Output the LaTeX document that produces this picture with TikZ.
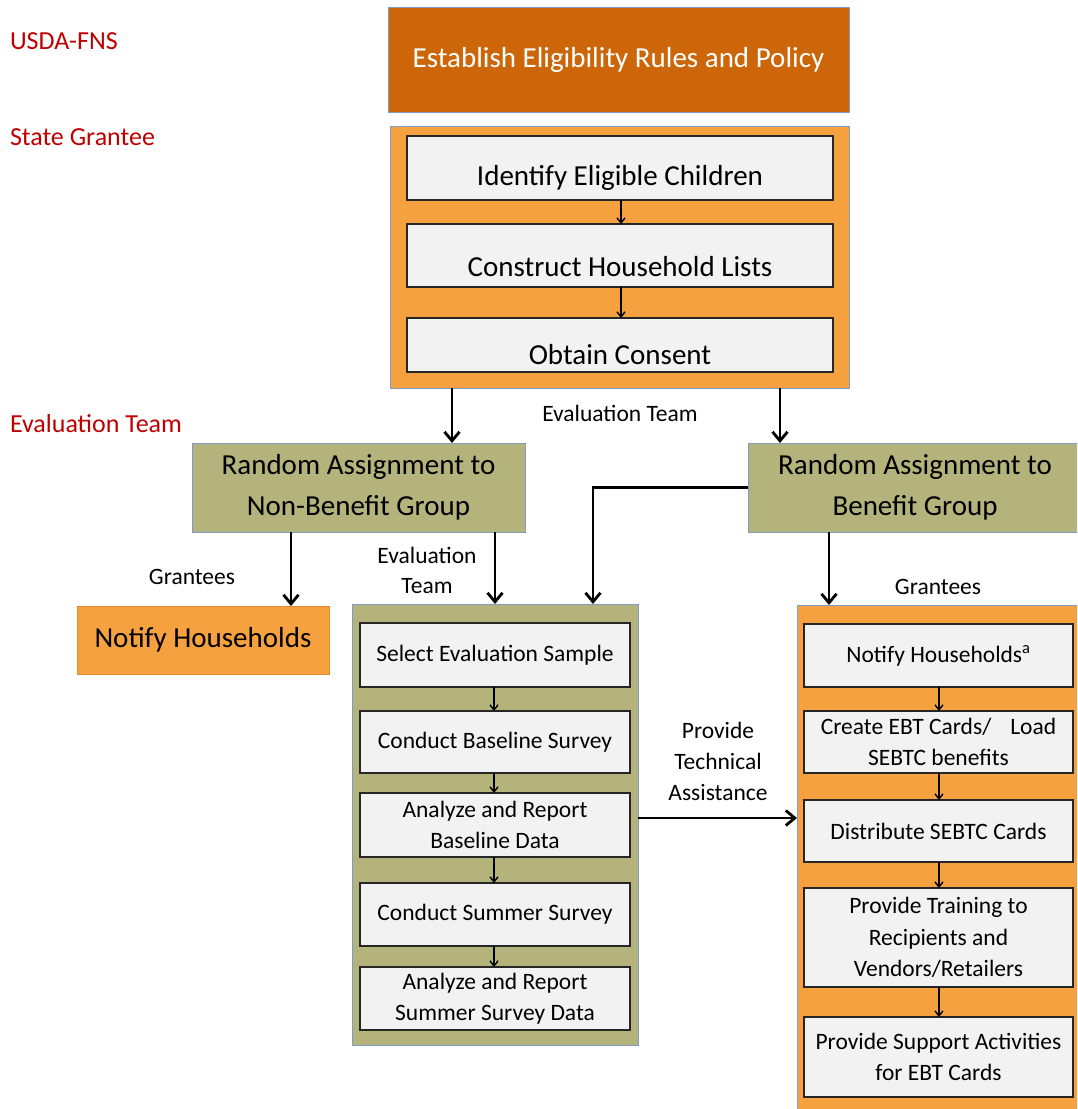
\documentclass[tikz,border=0pt]{standalone}
\usepackage{fontspec}
\setmainfont{Carlito}
\usetikzlibrary{arrows.meta}

\definecolor{rustorange}{HTML}{CC6608}
\definecolor{lightorange}{HTML}{F6A13F}
\definecolor{orangeedge}{HTML}{E48A2D}
\definecolor{olivefill}{HTML}{B3B37B}
\definecolor{boxgray}{HTML}{F2F2F2}
\definecolor{edgeblue}{HTML}{7F9CC4}
\definecolor{labelred}{HTML}{C00000}

\begin{document}
\begin{tikzpicture}[x=1pt,y=-1pt,
  every node/.style={inner sep=0pt, outer sep=0pt},
  panel/.style={draw=edgeblue, line width=1pt, rectangle},
  stepbox/.style={draw=black!85, line width=1.8pt, fill=boxgray, rectangle},
  bigfont/.style={font=\fontsize{29pt}{41pt}\selectfont, align=center},
  colfont/.style={font=\fontsize{23.5pt}{31.5pt}\selectfont, align=center},
  notefont/.style={font=\fontsize{23.5pt}{30pt}\selectfont, align=center},
  rolefont/.style={font=\fontsize{26pt}{30pt}\selectfont, text=labelred, anchor=west},
  bigarrow/.style={line width=2.8pt, -{Straight Barb[length=9pt,width=15pt]}},
  smallarrow/.style={line width=1.4pt, -{Straight Barb[length=5pt,width=8pt]}}
]
\useasboundingbox (0,0) rectangle (1077,1109);
\clip (0,0) rectangle (1077,1109);
\fill[white] (0,0) rectangle (1077,1109);

% role labels on the left
\node[rolefont] (role1) at (10,41) {USDA-FNS};
\node[rolefont] (role2) at (10,137) {State Grantee};
\node[rolefont] (role3) at (10,424) {Evaluation Team};

% policy level
\node[panel, fill=rustorange, minimum width=461pt, minimum height=105pt,
      bigfont, text=white] (policy) at (618.5,59.5) {Establish Eligibility Rules and Policy};

% state grantee panel with its three steps
\node[panel, fill=lightorange, minimum width=459pt, minimum height=262pt] (state) at (619.5,257) {};
\node[stepbox, minimum width=426pt, minimum height=64pt] (identify) at (620,168) {};
\node[bigfont] (identify-t) at (620,178) {Identify Eligible Children};
\node[stepbox, minimum width=426pt, minimum height=63pt] (lists) at (620,255.5) {};
\node[bigfont] (lists-t) at (620,267) {Construct Household Lists};
\node[stepbox, minimum width=426pt, minimum height=54pt] (consent) at (620,345) {};
\node[bigfont] (consent-t) at (620,355) {Obtain Consent};
\draw[smallarrow] (identify.south -| 621,0) -- (lists.north -| 621,0);
\draw[smallarrow] (lists.south -| 621,0) -- (consent.north -| 621,0);

\node[notefont] (evalteam) at (620,413) {Evaluation Team};

% random assignment
\node[panel, fill=olivefill, minimum width=333pt, minimum height=89pt, bigfont]
  (nonbenefit) at (358.5,487.5) {Random Assignment to\\Non-Benefit Group};
\node[panel, fill=olivefill, minimum width=334pt, minimum height=89pt, bigfont]
  (benefit) at (915,487.5) {Random Assignment to\\Benefit Group};

\draw[bigarrow] (state.south -| 452,0) -- (nonbenefit.north -| 452,0);
\draw[bigarrow] (state.south -| 780,0) -- (benefit.north -| 780,0);

% non-benefit branch
\node[notefont] (grantees-l) at (192,577) {Grantees};
\node[draw=orangeedge, line width=1pt, fill=lightorange, minimum width=252pt,
      minimum height=68pt, bigfont] (notify-l) at (203,640) {Notify Households};
\draw[bigarrow] (nonbenefit.south -| 291,0) -- (notify-l.north -| 291,0);

% evaluation column
\node[notefont] (evalteam2) at (427,570) {Evaluation\\Team};
\node[panel, fill=olivefill, minimum width=286pt, minimum height=441pt] (evalcol) at (495,824.5) {};
\node[stepbox, minimum width=270pt, minimum height=64pt, colfont] (sample) at (495,655) {Select Evaluation Sample};
\node[stepbox, minimum width=270pt, minimum height=62pt, colfont] (baseline) at (495,742) {Conduct Baseline Survey};
\node[stepbox, minimum width=270pt, minimum height=64pt, colfont] (basedata) at (495,825) {Analyze and Report\\Baseline Data};
\node[stepbox, minimum width=270pt, minimum height=63pt, colfont] (summer) at (495,914.5) {Conduct Summer Survey};
\node[stepbox, minimum width=270pt, minimum height=63pt, colfont] (sumdata) at (495,998.5) {Analyze and Report\\Summer Survey Data};
\draw[smallarrow] (sample.south -| 494,0) -- (baseline.north -| 494,0);
\draw[smallarrow] (baseline.south -| 494,0) -- (basedata.north -| 494,0);
\draw[smallarrow] (basedata.south -| 494,0) -- (summer.north -| 494,0);
\draw[smallarrow] (summer.south -| 494,0) -- (sumdata.north -| 494,0);

\draw[bigarrow] (nonbenefit.south -| 495,0) -- (evalcol.north -| 495,0);
\draw[bigarrow] (benefit.west) -| (evalcol.north -| 593,0);

% grantee column
\node[notefont] (grantees-r) at (938,587) {Grantees};
\node[panel, fill=lightorange, minimum width=313pt, minimum height=535pt] (grantcol) at (953.5,872.5) {};
\node[stepbox, minimum width=269pt, minimum height=63pt, colfont] (notify-r) at (938.5,655.5) {Notify Households\textsuperscript{a}};
\node[stepbox, minimum width=269pt, minimum height=62pt, colfont] (cards) at (938.5,742) {Create EBT Cards/\hspace{19pt}Load\\SEBTC benefits};
\node[stepbox, minimum width=269pt, minimum height=62pt, colfont] (distribute) at (938.5,831) {Distribute SEBTC Cards};
\node[stepbox, minimum width=269pt, minimum height=99pt, colfont] (training) at (938.5,937.5) {Provide Training to\\Recipients and\\Vendors/Retailers};
\node[stepbox, minimum width=269pt, minimum height=80pt, colfont] (support) at (938.5,1057) {Provide Support Activities\\for EBT Cards};
\draw[smallarrow] (notify-r.south -| 939,0) -- (cards.north -| 939,0);
\draw[smallarrow] (cards.south -| 939,0) -- (distribute.north -| 939,0);
\draw[smallarrow] (distribute.south -| 939,0) -- (training.north -| 939,0);
\draw[smallarrow] (training.south -| 939,0) -- (support.north -| 939,0);

\draw[bigarrow] (benefit.south -| 829,0) -- (grantcol.north -| 829,0);

% technical assistance link
\node[notefont, font=\fontsize{23.5pt}{31pt}\selectfont] (techassist) at (718,761) {Provide\\Technical\\Assistance};
\draw[bigarrow] (evalcol.east |- 0,818) -- (grantcol.west |- 0,818);
\end{tikzpicture}
\end{document}
